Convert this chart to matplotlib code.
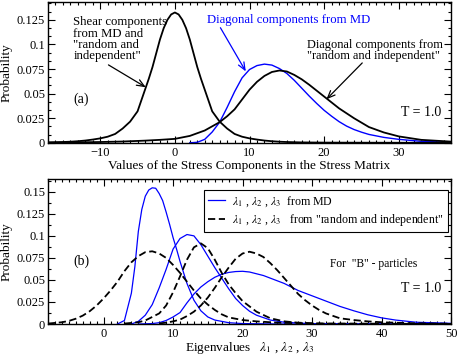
import matplotlib
matplotlib.use('Agg')
import matplotlib.pyplot as plt
from matplotlib.ticker import MultipleLocator, AutoMinorLocator, FuncFormatter

plt.rcParams['font.family'] = ['Liberation Serif', 'DejaVu Serif']
plt.rcParams['mathtext.fontset'] = 'stix'
plt.rcParams['font.size'] = 9

# ---- panel (a): stress components ----
shear_x = [-17, -15, -14, -13, -12, -11, -10, -9, -8, -7, -6, -5, -4, -3.5, -3, -2.5, -2,
           -1.5, -1, -0.5, 0, 0.5, 1, 1.5, 2, 2.5, 3, 3.5, 4, 5, 6, 7, 8, 9, 10, 11, 12,
           13, 14, 15, 17, 20, 25, 30, 37]
shear_y = [0.0004, 0.0008, 0.0011, 0.0016, 0.0023, 0.0033, 0.0045, 0.0062, 0.0090, 0.0145,
           0.0215, 0.032, 0.054, 0.065, 0.077, 0.091, 0.105, 0.1165, 0.125, 0.1305, 0.1325,
           0.1305, 0.125, 0.1165, 0.105, 0.091, 0.077, 0.065, 0.054, 0.032, 0.0215, 0.0145,
           0.0090, 0.0062, 0.0045, 0.0033, 0.0023, 0.0016, 0.0011, 0.0008, 0.0004, 0.0002,
           0.0001, 0.00005, 0.0]

diag_md_x = [2, 3, 4, 5, 6, 7, 8, 9, 10, 11, 12, 13, 14, 15, 16, 17, 18, 19, 20, 21, 22,
             23, 24, 25, 26, 28, 30, 33, 37]
diag_md_y = [0.0, 0.0005, 0.0035, 0.011, 0.021, 0.036, 0.052, 0.066, 0.0745, 0.0785, 0.080,
             0.079, 0.0755, 0.0705, 0.0635, 0.0555, 0.0475, 0.040, 0.033, 0.027, 0.0215,
             0.017, 0.0135, 0.0108, 0.0085, 0.0055, 0.0035, 0.0015, 0.0005]

diag_ri_x = [-17, -14, -10, -7, -4, -2, 0, 2, 4, 6, 7, 8, 9, 10, 11, 12, 13, 14, 15, 16, 17,
             18, 19, 20, 21, 22, 24, 26, 28, 30, 33, 37]
diag_ri_y = [0.0002, 0.0004, 0.0008, 0.0013, 0.0022, 0.003, 0.004, 0.007, 0.0125, 0.021,
             0.027, 0.034, 0.044, 0.054, 0.062, 0.068, 0.072, 0.0735, 0.0725, 0.069, 0.0645,
             0.059, 0.053, 0.047, 0.041, 0.035, 0.025, 0.016, 0.0105, 0.0065, 0.003, 0.0012]

# ---- panel (b): eigenvalues ----
l1_x = [2, 3, 4, 4.5, 5, 5.5, 6, 6.5, 7, 7.5, 8, 8.5, 9, 9.5, 10, 10.5, 11, 12, 13, 14, 15,
        16, 18, 20, 25, 50]
l1_y = [0.0, 0.004, 0.035, 0.065, 0.105, 0.130, 0.145, 0.152, 0.1545, 0.154, 0.148, 0.140,
        0.127, 0.113, 0.098, 0.085, 0.071, 0.046, 0.027, 0.015, 0.008, 0.0045, 0.0015,
        0.0005, 0.0, 0.0]
l2_x = [4, 5, 6, 7, 8, 9, 10, 11, 12, 13, 14, 15, 16, 17, 18, 19, 20, 21, 22, 24, 26, 30, 50]
l2_y = [0.0, 0.003, 0.010, 0.022, 0.041, 0.062, 0.085, 0.097, 0.1015, 0.100, 0.090, 0.077,
        0.064, 0.052, 0.040, 0.029, 0.021, 0.0145, 0.010, 0.0045, 0.002, 0.0003, 0.0]
l3_x = [5, 7, 8, 9, 10, 11, 12, 13, 14, 15, 16, 17, 18, 19, 20, 21, 22, 23, 24, 25, 26, 27,
        28, 30, 32, 34, 36, 38, 40, 42, 45, 50]
l3_y = [0.0, 0.0005, 0.0015, 0.004, 0.008, 0.013, 0.024, 0.034, 0.042, 0.048, 0.053, 0.0565,
        0.0585, 0.0595, 0.0598, 0.059, 0.057, 0.055, 0.052, 0.049, 0.046, 0.042, 0.038, 0.032,
        0.026, 0.020, 0.015, 0.0105, 0.007, 0.0045, 0.002, 0.0008]

r1_x = [-8, -6, -5, -4, -3, -2, -1, 0, 1, 2, 3, 4, 5, 6, 7, 8, 9, 10, 11, 12, 13, 14, 15, 16,
        17, 18, 20, 22, 25, 30, 50]
r1_y = [0.0005, 0.002, 0.0035, 0.006, 0.0095, 0.0145, 0.021, 0.029, 0.038, 0.048, 0.060,
        0.070, 0.077, 0.0815, 0.0825, 0.080, 0.075, 0.067, 0.058, 0.048, 0.038, 0.029, 0.022,
        0.016, 0.011, 0.0075, 0.0045, 0.003, 0.0015, 0.0005, 0.0]
r2_x = [3, 5, 6, 7, 8, 9, 10, 11, 12, 13, 14, 15, 16, 17, 18, 19, 20, 21, 22, 24, 26, 28, 32,
        50]
r2_y = [0.0005, 0.002, 0.004, 0.008, 0.012, 0.021, 0.036, 0.054, 0.073, 0.087, 0.0915, 0.086,
        0.073, 0.058, 0.045, 0.035, 0.026, 0.020, 0.014, 0.0065, 0.003, 0.0015, 0.0004, 0.0]
r3_x = [8, 9, 10, 11, 12, 13, 14, 15, 16, 17, 18, 19, 20, 21, 22, 23, 24, 25, 26, 27, 28, 29,
        30, 31, 32, 34, 36, 38, 40, 44, 50]
r3_y = [0.0007, 0.0015, 0.003, 0.005, 0.009, 0.014, 0.021, 0.030, 0.041, 0.053, 0.064, 0.074,
        0.080, 0.082, 0.080, 0.076, 0.069, 0.061, 0.052, 0.043, 0.034, 0.027, 0.021, 0.016,
        0.012, 0.0065, 0.0045, 0.003, 0.002, 0.001, 0.0003]

blue = '#0000ff'

fig = plt.figure(figsize=(4.57, 3.57), dpi=100)
ax1 = fig.add_axes([0.105, 0.600, 0.882, 0.394])
ax2 = fig.add_axes([0.105, 0.0924, 0.882, 0.4062])


def style_axis(ax, ysub):
    ax.xaxis.set_major_locator(MultipleLocator(10))
    ax.xaxis.set_minor_locator(MultipleLocator(1))
    ax.yaxis.set_minor_locator(AutoMinorLocator(ysub))
    ax.yaxis.set_major_formatter(FuncFormatter(lambda v, p: '%g' % round(v, 4)))
    ax.tick_params(which='both', direction='in', top=True, right=True, width=0.8,
                   labelsize=9)
    ax.tick_params(which='major', length=5)
    ax.tick_params(which='minor', length=2.5)
    ax.tick_params(axis='y', pad=2)
    ax.tick_params(axis='x', pad=3)
    for s in ax.spines.values():
        s.set_linewidth(1.0)


# panel (a)
ax1.plot(diag_md_x, diag_md_y, color=blue, lw=1.0)
ax1.plot(diag_ri_x, diag_ri_y, color='k', lw=1.3)
ax1.plot(shear_x, shear_y, color='k', lw=1.3)
ax1.set_xlim(-17, 37)
ax1.set_ylim(0, 0.143)
ax1.yaxis.set_major_locator(MultipleLocator(0.025))
style_axis(ax1, 3)
ax1.set_xlabel('Values of the Stress Components in the Stress Matrix', fontsize=9.5)
ax1.xaxis.set_label_coords(0.5, -0.123)
ax1.set_ylabel('Probability', fontsize=9.5)
ax1.yaxis.set_label_coords(-0.088, 0.5)

arrow = dict(arrowstyle='->,head_length=0.6,head_width=0.25', lw=0.9, shrinkA=0, shrinkB=0)
ax1.text(-13.6, 0.1285, 'Shear components\nfrom MD and\n"random and\nindependent"',
         ha='left', va='top', fontsize=9.2, linespacing=0.9)
ax1.annotate('', xy=(-3.9, 0.0565), xytext=(-8.9, 0.0792), arrowprops=arrow)
ax1.text(4.3, 0.125, 'Diagonal components from MD', color=blue, ha='left', va='center',
         fontsize=9.2)
ax1.annotate('', xy=(9.5, 0.0726), xytext=(6.1, 0.117),
             arrowprops=dict(arrow, color=blue))
ax1.text(17.7, 0.106, 'Diagonal components from\n"random and independent"',
         ha='left', va='top', fontsize=8.9, linespacing=0.9)
ax1.annotate('', xy=(20.3, 0.0442), xytext=(25.1, 0.0812), arrowprops=arrow)
ax1.text(0.975, 0.213, 'T = 1.0', transform=ax1.transAxes, ha='right', va='center',
         fontsize=10)
ax1.text(0.062, 0.313, '(a)', transform=ax1.transAxes, ha='left', va='center',
         fontsize=10)

# panel (b)
dash = (0, (4, 2))
for xs, ys in [(l1_x, l1_y), (l2_x, l2_y), (l3_x, l3_y)]:
    ax2.plot(xs, ys, color=blue, lw=0.9)
for xs, ys in [(r1_x, r1_y), (r2_x, r2_y), (r3_x, r3_y)]:
    ax2.plot(xs, ys, color='k', lw=1.3, linestyle=dash)
ax2.set_xlim(-8, 50)
ax2.set_ylim(0, 0.1645)
ax2.yaxis.set_major_locator(MultipleLocator(0.025))
style_axis(ax2, 2)
ax2.set_xlabel(r'Eigenvalues   $\lambda_1$ , $\lambda_2$ , $\lambda_3$', fontsize=9.5)
ax2.xaxis.set_label_coords(0.5, -0.112)
ax2.set_ylabel('Probability', fontsize=9.5)
ax2.yaxis.set_label_coords(-0.088, 0.5)

h1, = ax2.plot([], [], color=blue, lw=0.9)
h2, = ax2.plot([], [], color='k', lw=1.3, linestyle=dash)
leg = ax2.legend([h1, h2],
                 [r'$\lambda_1$ , $\lambda_2$ , $\lambda_3$  from MD',
                  r'$\lambda_1$ , $\lambda_2$ , $\lambda_3$   from "random and independent"'],
                 loc='upper right', bbox_to_anchor=(0.9926, 0.924), fontsize=8.6,
                 fancybox=False, framealpha=1, edgecolor='k', borderaxespad=0,
                 handlelength=1.4, handletextpad=0.65, labelspacing=0.3, borderpad=0.35)
leg.get_frame().set_linewidth(0.8)

ax2.text(0.699, 0.412, 'For  "B" - particles', transform=ax2.transAxes, ha='left',
         va='center', fontsize=8.3)
ax2.text(0.975, 0.246, 'T = 1.0', transform=ax2.transAxes, ha='right', va='center',
         fontsize=10)
ax2.text(0.062, 0.434, '(b)', transform=ax2.transAxes, ha='left', va='center',
         fontsize=10)

fig.savefig('out.png', dpi=100)
